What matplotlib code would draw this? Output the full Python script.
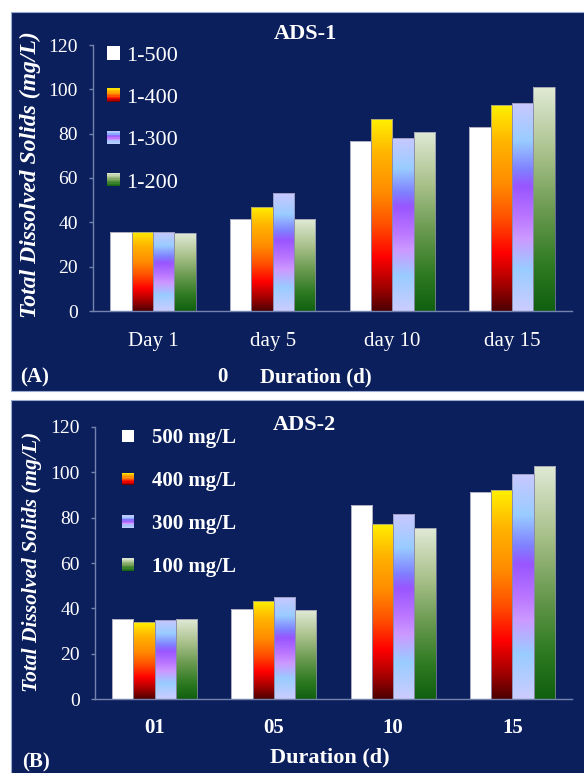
import numpy as np
import matplotlib
matplotlib.use("Agg")
import matplotlib.pyplot as plt
from matplotlib.colors import LinearSegmentedColormap
from matplotlib.patches import Rectangle
from matplotlib.legend_handler import HandlerBase

plt.rcParams["font.family"] = ["Liberation Serif", "DejaVu Serif"]

# panel A data
days_a = ["Day 1", "day 5", "day 10", "day 15"]
labels_a = ["1-500", "1-400", "1-300", "1-200"]
tds_a_500 = [35.7, 41.3, 76.7, 83.0]
tds_a_400 = [35.7, 47.1, 86.4, 92.9]
tds_a_300 = [35.7, 53.2, 78.2, 93.8]
tds_a_200 = [35.1, 41.3, 80.9, 101.0]

# panel B data
days_b = ["01", "05", "10", "15"]
labels_b = ["500 mg/L", "400 mg/L", "300 mg/L", "100 mg/L"]
tds_b_500 = [35.1, 39.5, 85.5, 91.5]
tds_b_400 = [33.9, 43.1, 77.3, 92.1]
tds_b_300 = [34.9, 44.9, 81.6, 99.2]
tds_b_100 = [35.2, 39.2, 75.3, 103.0]

NAVY = "#0b1f5c"
SPINE = "#7383ad"

# gradients, bottom -> top
cm_white = LinearSegmentedColormap.from_list("w", ["#ffffff", "#ffffff"])
cm_fire = LinearSegmentedColormap.from_list("fire", [
    (0.0, "#4d0000"), (0.12, "#a00000"), (0.28, "#ff0000"), (0.45, "#ff5000"),
    (0.62, "#ff8c00"), (0.82, "#ffb400"), (1.0, "#fff000")])
cm_purple = LinearSegmentedColormap.from_list("purp", [
    (0.0, "#ccccff"), (0.2, "#99ccff"), (0.35, "#cc99ff"), (0.45, "#bb77ff"),
    (0.6, "#9955ff"), (0.68, "#8080ff"), (0.82, "#99ccff"), (1.0, "#c8c8ff")])
cm_green = LinearSegmentedColormap.from_list("grn", [
    (0.0, "#106010"), (0.2, "#2e7a22"), (0.45, "#6a9a50"), (0.7, "#a8c08a"),
    (1.0, "#e0ead6")])
cmaps = [cm_white, cm_fire, cm_purple, cm_green]


class GradientHandler(HandlerBase):
    def __init__(self, cmap):
        super().__init__()
        self.cmap = cmap

    def create_artists(self, legend, orig_handle, xdescent, ydescent,
                       width, height, fontsize, trans):
        n = 10
        arts = []
        for i in range(n):
            arts.append(Rectangle((-xdescent, -ydescent + i * height / n),
                                  width, height / n * 1.05,
                                  facecolor=self.cmap((i + 0.5) / n),
                                  edgecolor="none", transform=trans))
        return arts


fig = plt.figure(figsize=(5.84, 7.73), dpi=100)
fig.patch.set_facecolor("white")

# dark panels behind each chart
fig.patches.append(Rectangle((11 / 584, 1 - 391 / 773), 1.0, 379 / 773,
                             transform=fig.transFigure, facecolor=NAVY,
                             edgecolor="#9aaad0", lw=0.8, zorder=-10))
fig.patches.append(Rectangle((11 / 584, -0.01), 1.0, 1 - 400 / 773 + 0.01,
                             transform=fig.transFigure, facecolor=NAVY,
                             edgecolor="#9aaad0", lw=0.8, zorder=-10))


def draw_panel(ax, cats, series, tickbold, xpad):
    x = np.arange(len(cats))
    w = 0.178
    handles = []
    for i, vals in enumerate(series):
        bars = ax.bar(x + (i - 1.5) * w, vals, w, facecolor="none",
                      edgecolor="#8a8aa8", lw=0.5, zorder=3)
        for b in bars:
            bx, bw, bh = b.get_x(), b.get_width(), b.get_height()
            img = np.linspace(0, 1, 256).reshape(-1, 1)
            im = ax.imshow(img, extent=[bx, bx + bw, 0, bh], origin="lower",
                           cmap=cmaps[i], aspect="auto", zorder=2)
            im.set_clip_path(b)
        handles.append(Rectangle((0, 0), 1, 1))
    ax.set_xlim(-0.5, 3.5)
    ax.set_ylim(0, 120)
    ax.set_yticks(range(0, 121, 20))
    ax.set_xticks(x)
    ax.set_xticklabels(cats, fontweight="bold" if tickbold else "normal")
    ax.set_facecolor("none")
    for s in ["top", "right"]:
        ax.spines[s].set_visible(False)
    for s in ["left", "bottom"]:
        ax.spines[s].set_color(SPINE)
        ax.spines[s].set_linewidth(1.0)
    ax.tick_params(axis="y", colors=SPINE, labelcolor="white", labelsize=14,
                   length=3, width=1, pad=8)
    ax.tick_params(axis="x", length=0, labelcolor="white", labelsize=15, pad=xpad)
    return handles


# ---- panel A
axA = fig.add_axes([93 / 584, 1 - 311 / 773, 479 / 584, 266 / 773])
hA = draw_panel(axA, days_a, [tds_a_500, tds_a_400, tds_a_300, tds_a_200],
                False, 15)
axA.legend(hA, labels_a, handler_map={h: GradientHandler(c) for h, c in zip(hA, cmaps)},
           loc="upper left", bbox_to_anchor=(0.03, 0.995), frameon=False,
           fontsize=16, labelcolor="white", handlelength=0.55, handleheight=0.55,
           handletextpad=0.3, labelspacing=1.02, borderpad=0, borderaxespad=0)
axA.text(0.443, 1.04, "ADS-1", transform=axA.transAxes, ha="center", va="center",
         color="white", fontsize=16, fontweight="bold")
fig.text(30 / 584, 1 - 175 / 773, "Total Dissolved Solids (mg/L)", rotation=90,
         ha="center", va="center", color="white", fontsize=17,
         fontweight="bold", fontstyle="italic")
fig.text(222 / 584, 1 - 377 / 773, "0", ha="center", va="center", color="white",
         fontsize=15, fontweight="bold")
fig.text(316 / 584, 1 - 377 / 773, "Duration (d)", ha="center", va="center",
         color="white", fontsize=15, fontweight="bold")
fig.text(35 / 584, 1 - 377 / 773, "(A)", ha="center", va="center", color="white",
         fontsize=15, fontweight="bold")

# ---- panel B
axB = fig.add_axes([95 / 584, 1 - 699 / 773, 477 / 584, 272 / 773])
hB = draw_panel(axB, days_b, [tds_b_500, tds_b_400, tds_b_300, tds_b_100],
                True, 14)
axB.legend(hB, labels_b, handler_map={h: GradientHandler(c) for h, c in zip(hB, cmaps)},
           loc="upper left", bbox_to_anchor=(0.057, 0.995), frameon=False,
           prop={"size": 15, "weight": "bold"}, labelcolor="white",
           handlelength=0.55, handleheight=0.55, handletextpad=0.9,
           labelspacing=1.1, borderpad=0, borderaxespad=0)
axB.text(0.44, 1.007, "ADS-2", transform=axB.transAxes, ha="center", va="center",
         color="white", fontsize=16, fontweight="bold")
fig.text(32 / 584, 1 - 562 / 773, "Total Dissolved Solids (mg/L)", rotation=90,
         ha="center", va="center", color="white", fontsize=15.5,
         fontweight="bold", fontstyle="italic")
fig.text(330 / 584, 1 - 757 / 773, "Duration (d)", ha="center", va="center",
         color="white", fontsize=16, fontweight="bold")
fig.text(36 / 584, 1 - 762 / 773, "(B)", ha="center", va="center", color="white",
         fontsize=15, fontweight="bold")

fig.savefig("out.png", dpi=100, facecolor=fig.get_facecolor())
